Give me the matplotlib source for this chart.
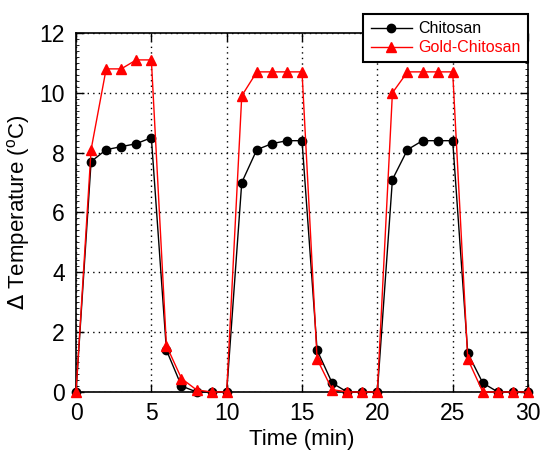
import numpy as np
import matplotlib.pyplot as plt
from matplotlib.ticker import MultipleLocator

plt.rcParams['font.family'] = ['Liberation Sans', 'DejaVu Sans']

time_min = list(range(0, 31))
chitosan = [0, 7.7, 8.1, 8.2, 8.3, 8.5, 1.4, 0.2, 0.0, 0.0,
            0, 7.0, 8.1, 8.3, 8.4, 8.4, 1.4, 0.3, 0.0, 0.0,
            0, 7.1, 8.1, 8.4, 8.4, 8.4, 1.3, 0.3, 0.0, 0.0, 0.0]
gold_chitosan = [0, 8.1, 10.8, 10.8, 11.1, 11.1, 1.55, 0.45, 0.07, 0.0,
                 0, 9.9, 10.7, 10.7, 10.7, 10.7, 1.1, 0.08, 0.0, 0.0,
                 0, 10.0, 10.7, 10.7, 10.7, 10.7, 1.1, 0.0, 0.0, 0.0, 0.0]


def main():
    fig = plt.figure(figsize=(5.43, 4.55), dpi=100)
    ax = fig.add_axes([0.14, 0.1385, 0.8324, 0.789])

    ax.plot(time_min, chitosan, color='black', marker='o', markersize=6,
            linewidth=1, label='Chitosan', clip_on=False, zorder=3)
    ax.plot(time_min, gold_chitosan, color='red', marker='^', markersize=7,
            linewidth=1, label='Gold-Chitosan', clip_on=False, zorder=4)

    ax.set_xlim(0, 30)
    ax.set_ylim(0, 12)
    ax.xaxis.set_major_locator(MultipleLocator(5))
    ax.yaxis.set_major_locator(MultipleLocator(2))
    ax.yaxis.set_minor_locator(MultipleLocator(0.2))
    ax.tick_params(which='major', direction='in', length=6, width=1,
                   top=True, right=True, labelsize=16.5)
    ax.tick_params(axis='x', pad=7)
    ax.tick_params(axis='y', pad=8)
    ax.tick_params(which='minor', axis='y', direction='in', length=2.5,
                   width=0.6, left=True, right=True)
    ax.grid(True, which='major', color='black', linestyle=(0, (1, 3)), linewidth=1)
    for s in ax.spines.values():
        s.set_linewidth(1.2)

    ax.set_xlabel('Time (min)', fontsize=16, labelpad=3)
    ax.set_ylabel('$\\Delta$ Temperature ($^\\mathregular{o}$C)', fontsize=16, labelpad=5)

    leg = ax.legend(loc='upper right', bbox_to_anchor=(1.0, 1.053),
                    borderaxespad=0, fontsize=11.5, frameon=True, fancybox=False,
                    edgecolor='black', framealpha=1, handlelength=2.6,
                    borderpad=0.45, labelspacing=0.25, handletextpad=0.4)
    leg.get_frame().set_linewidth(1.5)
    leg.set_zorder(10)
    for txt, col in zip(leg.get_texts(), ['black', 'red']):
        txt.set_color(col)

    fig.savefig('out.png', dpi=100)
    plt.close('all')


if __name__ == '__main__':
    main()
